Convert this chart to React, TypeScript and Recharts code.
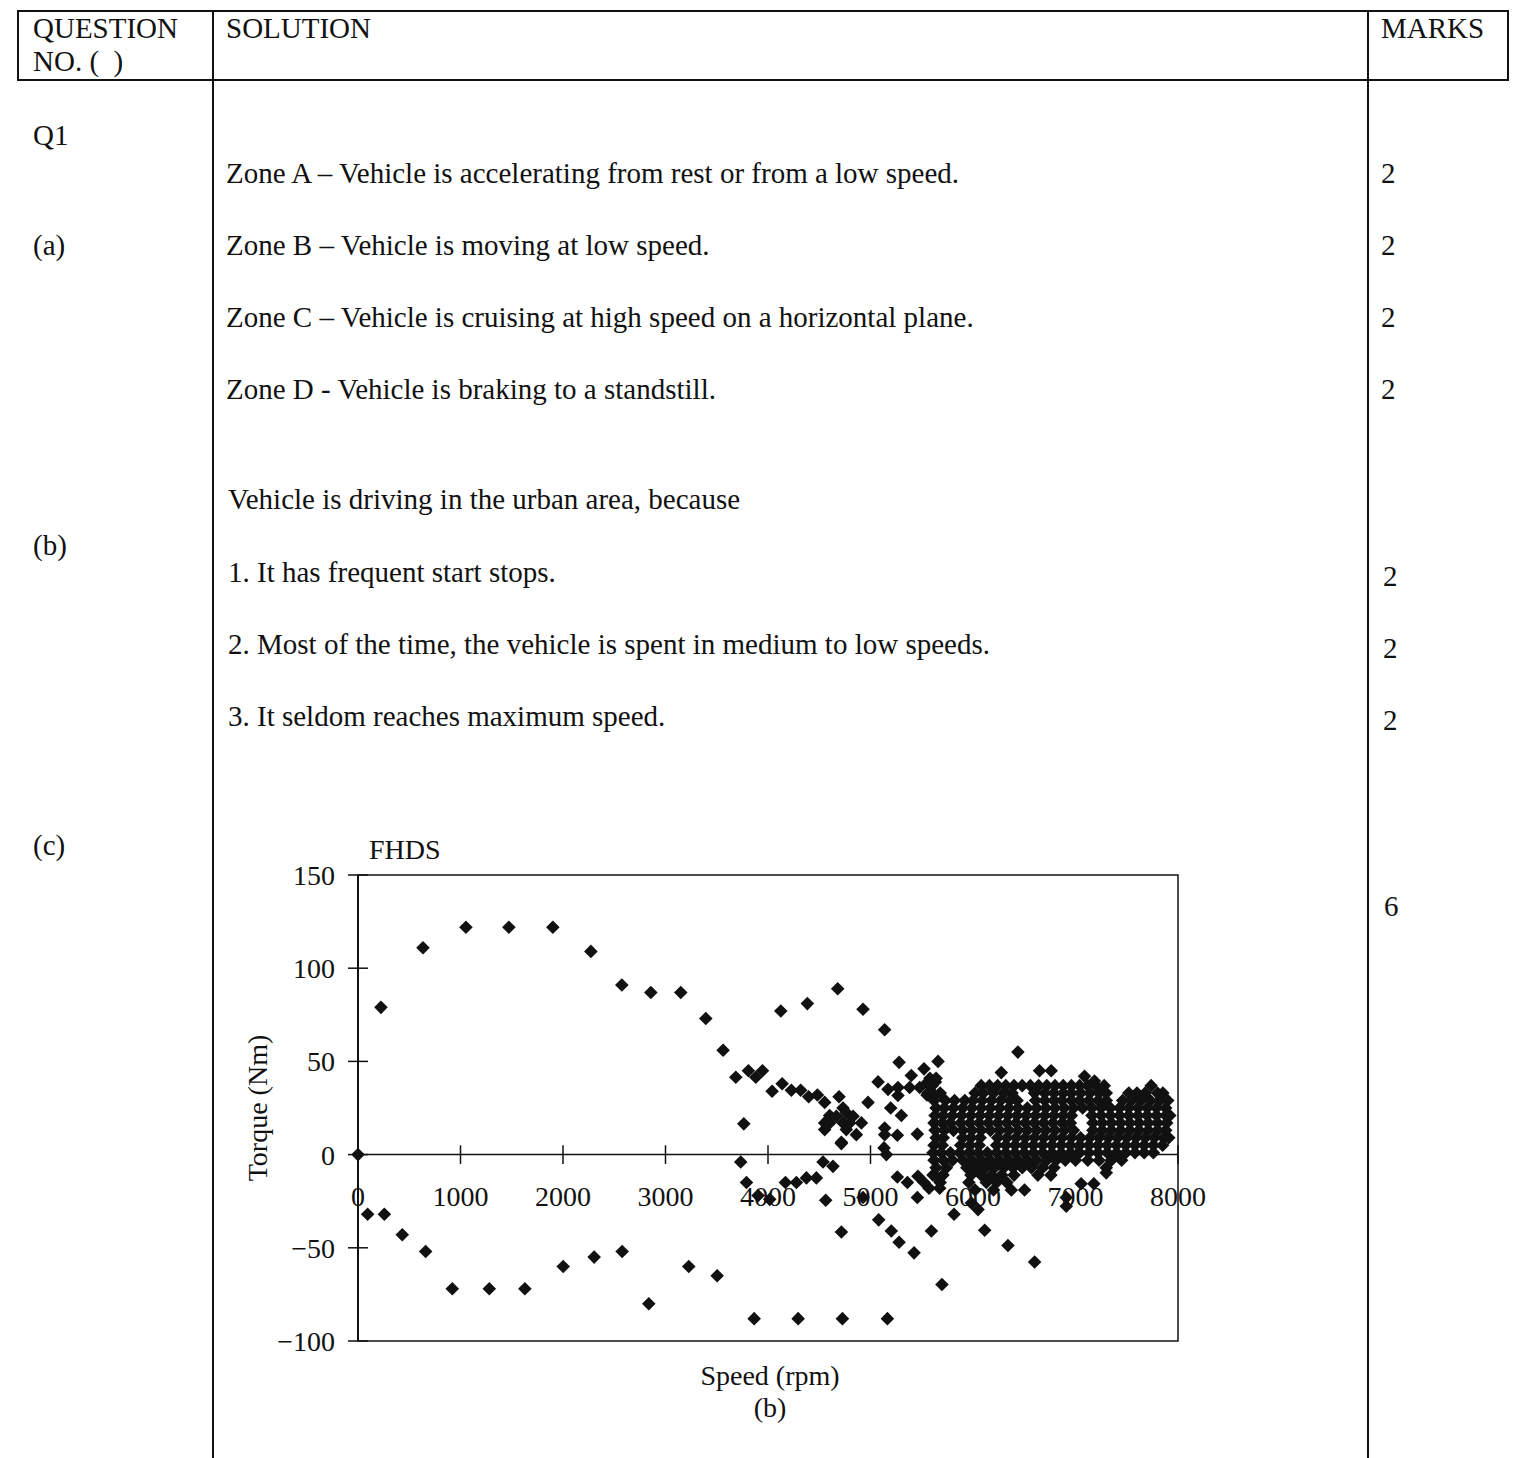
import React from 'react'
import { ReferenceArea, ReferenceDot, ReferenceLine, Scatter, ScatterChart, XAxis, YAxis } from 'recharts'

const FONT = '"Liberation Serif", "Times New Roman", serif'
const INK = '#111'

// speed (rpm), torque (Nm)
const firstAccel: [number, number][] = [
  [0, 0], [224, 79], [634, 111], [1053, 122], [1472, 122], [1901, 122], [2272, 109],
  [2574, 91], [2857, 87], [3149, 87], [3393, 73], [3562, 56],
]
const firstBrake: [number, number][] = [
  [94, -32], [257, -32], [432, -43], [660, -52], [920, -72], [1281, -72], [1628, -72],
  [2002, -60], [2304, -55], [2577, -52], [2837, -80], [3227, -60], [3504, -65],
  [3865, -88], [4294, -88], [4726, -88], [5165, -88],
]
const secondHump: [number, number][] = [
  [4125, 77], [4384, 81], [4680, 89], [4927, 78], [5138, 67],
]
const midBand: [number, number][] = [
  [3686, 41.5], [3809, 45], [3881, 41.5], [3946, 45], [3764, 16.5], [4040, 34], [4138, 38],
  [4228, 34.5], [4319, 34.5], [4397, 31], [4482, 32], [4553, 28], [4693, 31],
  [4602, 21], [4553, 17], [4602, 17], [4553, 13.4], [4667, 20.6], [4732, 25], [4764, 22.4],
  [4732, 17], [4797, 17], [4830, 20.6], [4911, 17], [4764, 13.4], [4862, 10.7], [4716, 6.6],
  [4976, 28], [5074, 39], [5171, 35], [5279, 49.5], [5268, 36], [5268, 31.7], [5398, 42.4],
  [5382, 36], [5480, 36], [5522, 46], [5659, 50], [5551, 38.5], [5551, 32], [5633, 39],
  [5626, 32], [5197, 25], [5301, 21], [5138, 14.3], [5138, 10.7], [5262, 10.4], [5457, 11],
  [5132, 3.6], [5155, 0], [4716, 5.9],
]
const midNegative: [number, number][] = [
  [3734, -4], [3790, -15], [3903, -22], [4017, -24], [4170, -15], [4277, -15], [4375, -12.5],
  [4472, -12.5], [4537, -4], [4634, -6.3], [4563, -24.5], [4927, -23], [4716, -41.5],
  [5080, -35], [5203, -41], [5279, -47], [5425, -52.7], [5594, -41], [5697, -69.7],
  [5262, -12], [5360, -15], [5457, -23], [5463, -11.6], [5522, -15], [5571, -18],
  [5636, -11.6], [5675, -18],
]
const highNegative: [number, number][] = [
  [5815, -32], [5984, -26], [6049, -29.5], [6114, -40.6], [6341, -48.8], [6601, -57.6],
  [6910, -23], [6910, -27.7], [7055, -15.6], [7179, -15.6], [7300, -9.8],
]
const highPeaks: [number, number][] = [
  [6438, 55], [6276, 44], [6649, 45], [6763, 45], [7088, 42], [7185, 39.5],
  [5580, 41], [5640, 41],
]

// dense high-speed cluster, one list of speeds per torque row
const row37 = [5600, 6080, 6160, 6240, 6320, 6400, 6480, 6560, 6640, 6720, 6800, 6880, 6960, 7040, 7120, 7200, 7280, 7738]
const row33 = [5560, 5680, 6020, 6100, 6200, 6300, 6380, 6600, 6700, 6790, 6880, 6960, 7050, 7140, 7230, 7300, 7520, 7600, 7680, 7800, 7852]
const row29 = [5620, 5730, 5820, 5920, 6000, 6090, 6180, 6270, 6360, 6430, 6610, 6700, 6790, 6870, 6960, 7040, 7130, 7220, 7300, 7460, 7550, 7640, 7730, 7820, 7900]
const row25 = [5640, 5720, 5810, 5900, 5990, 6080, 6170, 6260, 6350, 6440, 6530, 6620, 6710, 6800, 6890, 6980, 7070, 7160, 7250, 7340, 7430, 7520, 7610, 7700, 7790, 7880]
const row21 = [5630, 5710, 5800, 5890, 5980, 6070, 6160, 6250, 6340, 6430, 6520, 6610, 6700, 6790, 6880, 6960, 7160, 7250, 7340, 7430, 7520, 7610, 7700, 7790, 7880, 7920]
const row17 = [5620, 5700, 5780, 5880, 5970, 6060, 6150, 6240, 6330, 6420, 6510, 6600, 6690, 6780, 6870, 6950, 7170, 7260, 7350, 7440, 7530, 7620, 7710, 7800, 7890]
const row13 = [5630, 5720, 5810, 5900, 5990, 6080, 6170, 6260, 6350, 6440, 6530, 6620, 6710, 6800, 6890, 6980, 7170, 7260, 7350, 7440, 7530, 7620, 7710, 7800, 7880]
const row9 = [5640, 5710, 5900, 5980, 6070, 6240, 6330, 6420, 6510, 6600, 6690, 6780, 6870, 6960, 7050, 7140, 7230, 7320, 7410, 7500, 7590, 7680, 7770, 7860, 7910]
const row5 = [5620, 5700, 5880, 5970, 6060, 6230, 6320, 6410, 6500, 6590, 6680, 6770, 6860, 6950, 7040, 7130, 7220, 7310, 7400, 7490, 7580, 7670, 7760, 7850]
const row1 = [5610, 5690, 5780, 5870, 5960, 6050, 6140, 6230, 6320, 6410, 6500, 6590, 6680, 6770, 6860, 6950, 7040, 7130, 7220, 7310, 7400, 7490, 7580, 7670, 7760]
const rowM3 = [5620, 5710, 5800, 5900, 5990, 6080, 6170, 6260, 6350, 6440, 6530, 6620, 6720, 6810, 6900, 7000, 7120, 7230, 7350, 7450]
const rowM7 = [5640, 5740, 5940, 6030, 6120, 6210, 6300, 6390, 6480, 6570, 6680, 6790, 7300]
const rowM11 = [5610, 5707, 5980, 6080, 6180, 6280, 6400, 6633, 6760]
const rowM15 = [5680, 5960, 6130, 6230, 6330]
const rowM19 = [6020, 6200, 6374, 6503]

const clusterRows: [number, number[]][] = [
  [37, row37], [33, row33], [29, row29], [25, row25], [21, row21], [17, row17], [13, row13],
  [9, row9], [5, row5], [1, row1], [-3, rowM3], [-7, rowM7], [-11, rowM11], [-15, rowM15], [-19, rowM19],
]

const yTicks = [-100, -50, 0, 50, 100, 150]
const xTicks = [0, 1000, 2000, 3000, 4000, 5000, 6000, 7000, 8000]

const points = [
  ...firstAccel, ...firstBrake, ...secondHump, ...midBand, ...midNegative, ...highNegative, ...highPeaks,
  ...clusterRows.flatMap(([t, speeds]) => speeds.map((s) => [s, t] as [number, number])),
].map(([x, y]) => ({ x, y }))

const fmt = (v: number) => (v < 0 ? '\u2212' + Math.abs(v) : String(v))

function Diamond(props: any) {
  const { cx, cy } = props
  const r = 6.8
  return <path d={`M${cx},${cy - r}L${cx + r},${cy}L${cx},${cy + r}L${cx - r},${cy}Z`} fill={INK} />
}

function YTick(props: any) {
  const { x, y, payload } = props
  return (
    <g>
      <line x1={x - 10} x2={x + 10} y1={y} y2={y} stroke={INK} strokeWidth={1.5} />
      <text x={x - 23} y={y + 10} textAnchor="end" fontSize={28} fontFamily={FONT} fill={INK}>
        {fmt(payload.value)}
      </text>
    </g>
  )
}

function T({ x, y, size = 29, children }: { x: number; y: number; size?: number; children: React.ReactNode }) {
  return (
    <div
      style={{
        position: 'absolute',
        left: x,
        top: y - size * 0.84,
        fontSize: size,
        lineHeight: 1,
        whiteSpace: 'pre',
      }}
    >
      {children}
    </div>
  )
}

function Rule({ x, y, w, h }: { x: number; y: number; w: number; h: number }) {
  return <div style={{ position: 'absolute', left: x, top: y, width: w, height: h, background: INK }} />
}

export default function App() {
  return (
    <div
      style={{
        position: 'absolute',
        left: 0,
        top: 0,
        width: 1513,
        height: 1458,
        background: '#fff',
        fontFamily: FONT,
        color: INK,
        overflow: 'hidden',
      }}
    >
      {/* table rules */}
      <Rule x={17} y={10} w={1491} h={2} />
      <Rule x={17} y={79} w={1491} h={2} />
      <Rule x={17} y={10} w={1.5} h={71} />
      <Rule x={1507} y={10} w={1.5} h={71} />
      <Rule x={212} y={10} w={1.5} h={1448} />
      <Rule x={1367} y={10} w={1.5} h={1448} />

      {/* header */}
      <T x={33} y={38}>QUESTION</T>
      <T x={33} y={71}>NO. (  )</T>
      <T x={226} y={38}>SOLUTION</T>
      <T x={1381} y={38}>MARKS</T>

      {/* question column */}
      <T x={33} y={145}>Q1</T>
      <T x={33} y={255}>(a)</T>
      <T x={33} y={555}>(b)</T>
      <T x={33} y={855}>(c)</T>

      {/* solution column */}
      <T x={226} y={183}>Zone A – Vehicle is accelerating from rest or from a low speed.</T>
      <T x={226} y={255}>Zone B – Vehicle is moving at low speed.</T>
      <T x={226} y={327}>Zone C – Vehicle is cruising at high speed on a horizontal plane.</T>
      <T x={226} y={399}>Zone D - Vehicle is braking to a standstill.</T>
      <T x={228} y={509}>Vehicle is driving in the urban area, because</T>
      <T x={228} y={582}>1. It has frequent start stops.</T>
      <T x={228} y={654}>2. Most of the time, the vehicle is spent in medium to low speeds.</T>
      <T x={228} y={726}>3. It seldom reaches maximum speed.</T>

      {/* marks column */}
      <T x={1381} y={183}>2</T>
      <T x={1381} y={255}>2</T>
      <T x={1381} y={327}>2</T>
      <T x={1381} y={399}>2</T>
      <T x={1383} y={586}>2</T>
      <T x={1383} y={658}>2</T>
      <T x={1383} y={730}>2</T>
      <T x={1384} y={916}>6</T>

      {/* chart */}
      <T x={369} y={860} size={28}>FHDS</T>
      <div
        style={{
          position: 'absolute',
          left: 258,
          top: 1108,
          fontSize: 28,
          lineHeight: 1,
          whiteSpace: 'pre',
          transform: 'translate(-50%, -50%) rotate(-90deg)',
        }}
      >
        Torque (Nm)
      </div>
      <div style={{ position: 'absolute', left: 570, width: 400, top: 1362, fontSize: 28, lineHeight: 1, textAlign: 'center' }}>
        Speed (rpm)
      </div>
      <div style={{ position: 'absolute', left: 570, width: 400, top: 1394, fontSize: 28, lineHeight: 1, textAlign: 'center' }}>
        (b)
      </div>

      <div style={{ position: 'absolute', left: 200, top: 820 }}>
        <ScatterChart width={1040} height={560} margin={{ top: 55, right: 62, bottom: 39, left: 0 }}>
          <XAxis type="number" dataKey="x" domain={[0, 8000]} ticks={xTicks} hide />
          <YAxis
            type="number"
            dataKey="y"
            domain={[-100, 150]}
            ticks={yTicks}
            width={158}
            tickSize={0}
            tickMargin={0}
            tickLine={false}
            axisLine={{ stroke: INK, strokeWidth: 2 }}
            tick={<YTick />}
            interval={0}
          />
          <ReferenceArea x1={0} x2={8000} y1={-100} y2={150} fill="none" stroke={INK} strokeWidth={1.5} />
          <ReferenceLine y={0} stroke={INK} strokeWidth={1.5} />
          {xTicks.map((t) => (
            <ReferenceLine
              key={'t' + t}
              segment={[
                { x: t, y: -5 },
                { x: t, y: 5 },
              ]}
              stroke={INK}
              strokeWidth={1.5}
            />
          ))}
          {xTicks.map((t) => (
            <ReferenceDot
              key={'l' + t}
              x={t}
              y={0}
              r={0}
              fill="none"
              stroke="none"
              label={{ value: String(t), position: 'bottom', offset: 32, fill: INK, fontSize: 28, fontFamily: FONT }}
            />
          ))}
          <Scatter data={points} shape={<Diamond />} isAnimationActive={false} />
        </ScatterChart>
      </div>
    </div>
  )
}
